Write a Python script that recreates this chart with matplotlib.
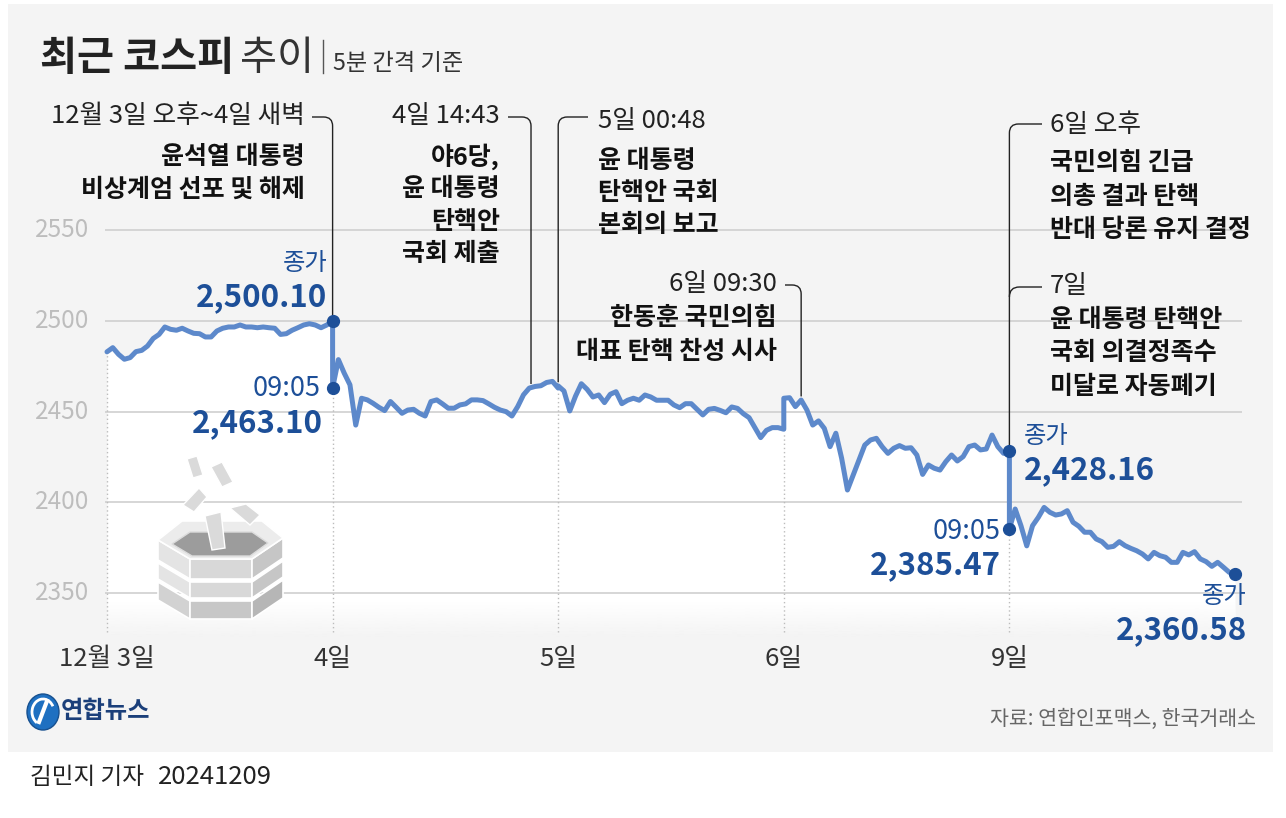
import numpy as np
import matplotlib
matplotlib.use('Agg')
import matplotlib.pyplot as plt
import matplotlib.transforms as mtransforms
from matplotlib.path import Path
from matplotlib.patches import PathPatch, Polygon, Rectangle, Ellipse, Arc

plt.rcParams['font.family'] = ['Noto Sans CJK KR', 'DejaVu Sans']

# ---- data (KOSPI, 10-minute steps per session) ----
day_labels = ['12월 3일', '4일', '5일', '6일', '9일']

kospi_1203 = [2483.0, 2485.3, 2481.6, 2478.9, 2479.8, 2483.1, 2483.8, 2486.2, 2490.4, 2492.6,
              2496.7, 2495.4, 2494.9, 2496.0, 2494.5, 2493.2, 2493.0, 2491.2, 2491.2, 2494.5,
              2496.0, 2496.7, 2496.7, 2497.8, 2496.7, 2496.7, 2496.3, 2496.7, 2496.3, 2496.0,
              2492.6, 2493.0, 2494.9, 2496.3, 2497.8, 2498.5, 2497.8, 2496.3, 2497.8, 2500.10]
kospi_1204 = [2463.10, 2478.7, 2471.3, 2464.8, 2442.6, 2457.4, 2456.5, 2454.6, 2452.4, 2450.6,
              2455.6, 2452.4, 2449.1, 2450.9, 2451.3, 2449.1, 2447.6, 2455.6, 2456.5, 2454.3,
              2451.9, 2451.9, 2453.7, 2454.3, 2456.5, 2456.5, 2456.1, 2454.3, 2452.4, 2450.9,
              2450.0, 2447.6, 2452.8, 2459.3, 2463.0, 2463.9, 2464.3, 2466.1, 2466.7, 2463.0]
kospi_1205 = [2464.2, 2461.4, 2450.4, 2458.6, 2465.4, 2462.3, 2458.1, 2459.2, 2455.0, 2459.6,
              2461.0, 2454.4, 2456.3, 2457.4, 2456.3, 2459.2, 2458.1, 2456.3, 2456.3, 2456.3,
              2453.7, 2452.2, 2454.4, 2454.4, 2451.3, 2448.2, 2451.3, 2451.8, 2450.7, 2449.4,
              2452.6, 2451.8, 2448.9, 2446.7, 2441.2, 2435.7, 2439.7, 2441.2, 2441.2, 2440.3]
kospi_1206 = [2457.4, 2457.7, 2452.8, 2456.4, 2450.9, 2442.6, 2444.9, 2440.8, 2430.7, 2438.1,
              2424.3, 2406.8, 2415.1, 2423.3, 2431.6, 2434.4, 2435.3, 2430.7, 2427.0, 2429.8,
              2431.3, 2429.8, 2430.1, 2426.1, 2415.4, 2420.6, 2418.8, 2417.8, 2422.4, 2426.1,
              2422.8, 2425.2, 2430.7, 2431.6, 2428.9, 2429.4, 2437.1, 2430.7, 2427.0, 2428.16]
kospi_1209 = [2385.47, 2396.3, 2387.1, 2376.0, 2387.1, 2391.7, 2397.2, 2394.5, 2393.0, 2393.6,
              2395.4, 2389.0, 2386.8, 2383.5, 2383.5, 2379.8, 2378.3, 2375.2, 2375.7, 2378.3,
              2376.1, 2374.6, 2373.3, 2371.5, 2368.8, 2372.4, 2370.6, 2369.7, 2366.9, 2366.9,
              2372.4, 2371.0, 2372.8, 2368.8, 2367.3, 2364.7, 2366.9, 2364.2, 2361.4, 2360.58]
sessions = [kospi_1203, kospi_1204, kospi_1205, kospi_1206, kospi_1209]

yticks = [2350, 2400, 2450, 2500, 2550]

# marked points
mark_pos = [1.0, 1.0, 4.0, 4.0, 5.0]
mark_val = [2500.10, 2463.10, 2428.16, 2385.47, 2360.58]
mark_tag = ['종가', '09:05', '종가', '09:05', '종가']

# events (position in days from 12/3 09:00; a session = 390 min)
event_pos = [1.0, 1 + 343 / 390, 2.0, 3 + 30 / 390, 4.0]
notes = [
    ('12월 3일 오후~4일 새벽', ['윤석열 대통령', '비상계엄 선포 및 해제']),
    ('4일 14:43', ['야6당,', '윤 대통령', '탄핵안', '국회 제출']),
    ('5일 00:48', ['윤 대통령', '탄핵안 국회', '본회의 보고']),
    ('6일 09:30', ['한동훈 국민의힘', '대표 탄핵 찬성 시사']),
    ('6일 오후', ['국민의힘 긴급', '의총 결과 탄핵', '반대 당론 유지 결정']),
    ('7일', ['윤 대통령 탄핵안', '국회 의결정족수', '미달로 자동폐기']),
]

BG = '#f4f4f4'
LINE = '#5d89cb'
NAVY = '#1d4f98'
INK = '#222222'

# ---- figure / axes ----
W, H = 1286, 818
fig = plt.figure(figsize=(W / 100, H / 100), dpi=100)
fig.patch.set_facecolor('white')

ov = fig.add_axes([0, 0, 1, 1], zorder=0)
ov.set_xlim(0, W)
ov.set_ylim(H, 0)
ov.axis('off')
ov.add_patch(Rectangle((8, 4), 1265, 748, facecolor=BG, edgecolor='none'))

# data axes mapped so that day 0 -> 107px, 225.6px per day; 2500 -> 321px, 1.8133px per point
PXD, X0 = 225.6, 107
PXP, Y0 = 1.8133, 321
ax = fig.add_axes([0, 0, 1, 1], zorder=1)
ax.axis('off')
xlim = (-X0 / PXD, (W - X0) / PXD)
ylim = (2500 - (H - Y0) / PXP, 2500 + Y0 / PXP)

P = ov.transData  # pixel coordinates (y down)

x_all, y_all = [], []
for i, vals in enumerate(sessions):
    x_all.append(i + np.linspace(0, 1, len(vals)))
    y_all.append(np.array(vals))
x_all = np.concatenate(x_all)
y_all = np.concatenate(y_all)

bottom = 2326
ax.fill_between(x_all, y_all, bottom, color='white', lw=0, zorder=1)
grad = np.zeros((64, 1, 4))
grad[..., :3] = matplotlib.colors.to_rgb(BG)
grad[:, 0, 3] = np.linspace(0, 1, 64)
ax.imshow(grad, extent=(0, 5, bottom, 2345), origin='upper', aspect='auto', zorder=1.5,
          interpolation='bilinear')
ax.set_xlim(*xlim)
ax.set_ylim(*ylim)
ax.set_aspect('auto')

# grid
ax.hlines(yticks, -0.01, 5.03, color='#cccccc', lw=1.1, zorder=2)
ylab_tf = mtransforms.blended_transform_factory(P, ax.transData)
for v in yticks:
    ax.text(89, v, str(v), transform=ylab_tf, ha='right', va='center', fontsize=17.5,
            color='#bdbdbd')

# dotted day lines + day labels
xlab_tf = mtransforms.blended_transform_factory(ax.transData, P)
for i, lab in enumerate(day_labels):
    top = min(sessions[i][0], sessions[i - 1][-1]) if i > 0 else sessions[0][0]
    ax.vlines(i, 2328.5, top - 1.5, color='#bcbcbc', lw=1, linestyle=(0, (1, 2)), zorder=2)
    ax.text(i, 659, lab, transform=xlab_tf, ha='center', va='center', fontsize=18.5,
            color='#333333')

# the series
ax.plot(x_all, y_all, color=LINE, lw=3.6, solid_joinstyle='round', solid_capstyle='round', zorder=3)
ax.plot(mark_pos, mark_val, 'o', color=NAVY, ms=8.5, zorder=4)

# labels around marked points (offsets in pixels, y up)
tag_off = [(-5, 58, 'right'), (-12, -1, 'right'), (14, 15, 'left'), (-9, -3, 'right'), (12, -22, 'right')]
num_off = [(-5, 24, 'right'), (-10, -35, 'right'), (14, -19, 'left'), (-9, -36, 'right'), (12, -56, 'right')]
for xp, v, tag, to, no in zip(mark_pos, mark_val, mark_tag, tag_off, num_off):
    ax.annotate(tag, (xp, v), xytext=to[:2], textcoords='offset pixels', ha=to[2], va='center',
                fontsize=19.5 if ':' in tag else 17.5, color=NAVY, zorder=5)
    ax.annotate(f'{v:,.2f}', (xp, v), xytext=no[:2], textcoords='offset pixels', ha=no[2], va='center',
                fontsize=22.5, fontweight='bold', color=NAVY, zorder=5)


def px(xd, v):
    return P.inverted().transform(ax.transData.transform((xd, v)))


def leader(verts, codes):
    ax.add_patch(PathPatch(Path(verts, codes), facecolor='none', edgecolor=INK, lw=1,
                           transform=P, zorder=2.4))


M, L_, C = Path.MOVETO, Path.LINETO, Path.CURVE3
r = 9
end_vals = [2500.10, np.interp(event_pos[1], x_all, y_all) + 2,
            np.interp(event_pos[2], x_all, y_all) + 2,
            np.interp(event_pos[3], x_all, y_all) + 2, 2428.16]
ends = [px(e, v) for e, v in zip(event_pos, end_vals)]

# text on the left: line goes right then down
for (ex, ey), x_start, y_h in [(ends[0], 312, 117), (ends[1], 508, 117), (ends[3], 785, 285)]:
    leader([(x_start, y_h), (ex - r, y_h), (ex, y_h), (ex, y_h + r), (ex, ey)], [M, L_, C, C, L_])
# text on the right: line goes up then right
for (ex, ey), x_end, y_h in [(ends[2], 588, 117), (ends[4], 1042, 124)]:
    leader([(ex, ey), (ex, y_h + r), (ex, y_h), (ex + r, y_h), (x_end, y_h)], [M, L_, C, C, L_])
ex4 = ends[4][0]
leader([(ex4, 297), (ex4, 287), (ex4 + 10, 287), (1042, 287)], [M, C, C, L_])

# annotation blocks: x, ha, header y, body y0, step
note_layout = [(305, 'right', 116, 157, 33), (500, 'right', 116, 157, 32.3),
               (598, 'left', 121, 161, 32), (777, 'right', 284, 318, 34),
               (1050, 'left', 125, 163, 33.5), (1050, 'left', 286, 320, 33.5)]
for (head, body), (tx, ha, yh, yb, step) in zip(notes, note_layout):
    ax.text(tx, yh, head, transform=P, ha=ha, va='center', fontsize=18.5, color=INK, zorder=5)
    for j, line in enumerate(body):
        ax.text(tx, yb + j * step, line, transform=P, ha=ha, va='center', fontsize=18,
                color='#111111', fontweight='bold', zorder=5)

# title
ax.text(40, 70, '최근 코스피', transform=P, ha='left', va='baseline', fontsize=29,
        fontweight='bold', color=INK)
ax.text(240, 70, '추이', transform=P, ha='left', va='baseline', fontsize=29, color='#333333')
ax.plot([323, 323], [40, 73], color='#555555', lw=1, transform=P)
ax.text(333, 70, '5분 간격 기준', transform=P, ha='left', va='baseline', fontsize=16.7,
        color='#333333')

# decorative icon: papers flying out of a hexagonal box
top_outer = [(158, 540), (182, 521), (262, 521), (283, 538), (252, 559), (190, 559)]
top_inner = [(172, 544), (190, 532), (252, 532), (268, 543), (250, 556), (192, 556)]
Lp, FLp, FRp, Rp = np.array(top_outer[0]), np.array(top_outer[5]), np.array(top_outer[4]), np.array(top_outer[3])
for d0, d1, shade in [(42, 60, 0.92), (23, 39, 1.0), (0, 20, 1.0)]:
    a, b = np.array([0, d0]), np.array([0, d1])
    for face, col in [([Lp + a, FLp + a, FLp + b, Lp + b], '#e4e4e4'),
                      ([FLp + a, FRp + a, FRp + b, FLp + b], '#d8d8d8'),
                      ([FRp + a, Rp + a, Rp + b, FRp + b], '#c6c6c6')]:
        c = np.array(matplotlib.colors.to_rgb(col)) * shade
        ax.add_patch(Polygon(face, closed=True, facecolor=c, edgecolor='white', lw=1.2,
                             transform=P, zorder=3.5))
ax.add_patch(Polygon(top_outer, closed=True, facecolor='#ececec', edgecolor='white', lw=1.2,
                     transform=P, zorder=3.5))
ax.add_patch(Polygon(top_inner, closed=True, facecolor='#9c9c9c', edgecolor='#dcdcdc', lw=1,
                     transform=P, zorder=3.5))
papers = [[(187, 459), (197, 456), (203, 475), (193, 478)],
          [(211, 467), (222, 462), (233, 482), (222, 487)],
          [(183, 505), (199, 488), (207, 497), (194, 512)],
          [(230, 508), (246, 504), (260, 515), (250, 525)],
          [(205, 516), (221, 512), (225, 548), (212, 550)]]
for pp in papers:
    ax.add_patch(Polygon(pp, closed=True, facecolor='#dadada', edgecolor='white', lw=1,
                         transform=P, zorder=3.6))

# logo
ax.add_patch(Ellipse((43, 712), 32, 36, facecolor='#1f70c1', edgecolor='#17508f', lw=1,
                     transform=P, zorder=5))
ax.add_patch(Arc((43, 712), 22, 26, theta1=120, theta2=330, color='white', lw=2, transform=P, zorder=5))
ax.plot([39, 47], [722, 701], color='white', lw=3, transform=P, zorder=5)
ax.text(61, 711, '연합뉴스', transform=P, ha='left', va='center', fontsize=17.5, fontweight='bold',
        color='#1b3f7a', zorder=5)

ax.text(1256, 719, '자료: 연합인포맥스, 한국거래소', transform=P, ha='right', va='center',
        fontsize=14.8, color='#666666')
ax.text(30, 777, '김민지 기자', transform=P, ha='left', va='center', fontsize=17, color=INK)
ax.text(158, 777, '20241209', transform=P, ha='left', va='center', fontsize=18.5, color=INK)

fig.savefig('out.png', dpi=100, facecolor='white')
